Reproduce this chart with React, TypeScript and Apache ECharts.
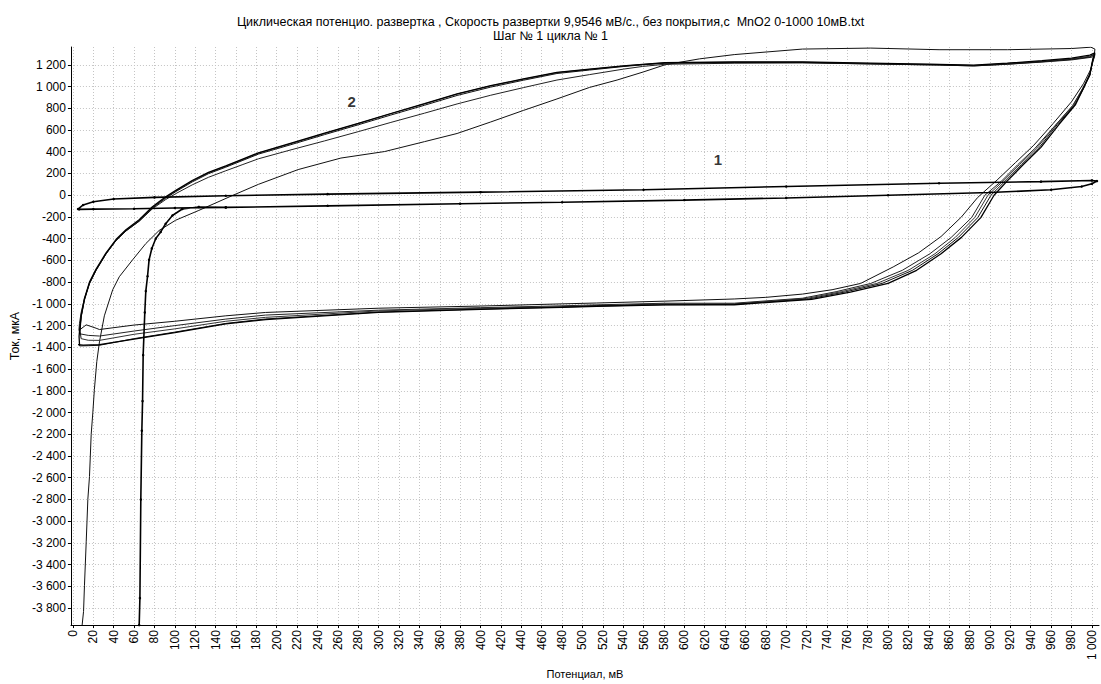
import React, { useEffect, useRef } from "react";
import * as echarts from "echarts";

// Tick values (mV on x, µA on y)
const xTicks: number[] = Array.from({ length: 51 }, (_, i) => i * 20);
const yTicks: number[] = Array.from({ length: 26 }, (_, i) => -3800 + i * 200);

// Curve 1: flat band with initial steep charging drop (dotted line)
const curve1: number[][] = [
  [65, -3956], [65.7, -3708], [66.6, -2800], [67.6, -2167], [68.3, -1895], [68.9, -1471],
  [70.5, -1079], [71.5, -882], [73.2, -746], [74.7, -595], [77.4, -490], [81.3, -399],
  [86.1, -338], [91, -263], [97.6, -187], [107.3, -127], [123.5, -108],
  [150, -112], [250, -98], [380, -78], [480, -65], [600, -45], [700, -25], [800, 0],
  [900, 25], [960, 50], [990, 80], [1000, 105], [1005, 130],
  [1000, 136], [950, 125], [850, 110], [700, 80], [560, 50], [400, 28], [250, 10],
  [150, -5], [80, -20], [40, -35], [20, -60], [10, -90], [5, -127],
  [6, -130], [20, -128], [60, -125], [100, -118], [150, -112],
];

// Curve 2, cycle 1 (starts with the steep drop near 10 mV)
const cycle1: number[][] = [
  [9, -3956], [10.4, -3830], [11.3, -3590], [13, -3190], [14.6, -2800], [16.2, -2590],
  [17.9, -2200], [19.5, -2000], [21, -1790], [23.4, -1530], [26, -1350], [30.8, -1110],
  [39, -870], [45.5, -750], [58.5, -595], [71.5, -445], [84.5, -325], [100.8, -230],
  [123.5, -140], [156, -5], [182, 100], [221, 236], [263, 342], [306, 402], [345, 493],
  [377, 568], [410, 674], [442, 780], [475, 886], [507, 992], [534, 1060], [560, 1135],
  [581, 1200], [615, 1255], [649, 1294], [716, 1345], [783, 1354], [850, 1339],
  [917, 1339], [980, 1350], [999, 1362], [1003, 1345],
  [1002, 1260], [999, 1160], [992, 1030], [980, 860], [962, 660], [943, 460], [925, 300],
  [907, 140], [888, -20], [872, -200], [852, -380], [830, -530], [805, -660], [773, -812],
  [745, -870], [716, -910], [680, -940], [649, -955], [581, -975], [514, -992], [480, -1000],
  [400, -1020], [300, -1040], [189, -1079], [150, -1110], [100, -1160], [60, -1195],
  [26, -1236], [22.7, -1224], [13, -1193], [5.8, -1245],
];

const cycle2: number[][] = [
  [5.8, -1245], [6.4, -1180], [8, -1080], [11.3, -950], [16.2, -810], [22.7, -690],
  [32.5, -540], [42, -420], [52, -330], [65, -240], [78, -125], [91, -40], [101, 15],
  [117, 95], [133, 165], [150, 225], [166, 280], [182, 335], [215, 420], [247, 500],
  [280, 585], [312, 670], [345, 755], [377, 840], [410, 920], [442, 990], [475, 1060],
  [507, 1110], [540, 1160], [559, 1185], [581, 1205], [649, 1215], [716, 1218],
  [783, 1208], [850, 1198], [884, 1190], [917, 1205], [951, 1225], [980, 1245],
  [1000, 1270], [1003, 1285],
  [1001, 1240], [998, 1100], [991, 980], [981, 824], [964, 642], [944, 430], [927, 279],
  [911, 127], [895, 0], [882, -206], [862, -388], [841, -539], [814, -691], [783, -812],
  [749, -888], [716, -948], [649, -994], [581, -994], [514, -1009], [480, -1018],
  [400, -1035], [300, -1058], [189, -1103], [150, -1140], [100, -1200], [60, -1250],
  [26, -1296], [15, -1290], [6.5, -1275],
];

const cycle3: number[][] = [
  [6.5, -1275], [7, -1200], [8.1, -1109], [11.3, -957], [16.2, -807], [22.7, -686],
  [32.5, -535], [42.2, -413], [52, -323], [65, -232], [78, -112], [91, -21], [101, 40],
  [117, 130], [133, 206], [150, 266], [166, 326], [182, 387], [215, 478], [247, 568],
  [280, 659], [312, 750], [345, 840], [377, 931], [410, 1006], [442, 1067], [475, 1128],
  [507, 1158], [540, 1188], [559, 1203], [581, 1218], [649, 1224], [716, 1224],
  [783, 1212], [850, 1203], [884, 1194], [917, 1212], [951, 1233], [980, 1255],
  [998, 1279], [1003, 1300],
  [1001, 1250], [998, 1110], [991, 985], [982, 830], [965, 650], [946, 435], [929, 282],
  [913, 130], [898, 0], [885, -206], [866, -388], [846, -539], [820, -691], [789, -812],
  [754, -888], [720, -950], [649, -1000], [581, -1000], [514, -1015], [480, -1025],
  [400, -1040], [300, -1065], [189, -1124], [150, -1160], [100, -1230], [60, -1280],
  [26, -1336], [15, -1335], [8, -1320],
];

const cycle4: number[][] = [
  [8, -1320], [7, -1250], [8.1, -1120], [11.3, -965], [16.2, -815], [22.7, -692],
  [32.5, -540], [42.2, -418], [52, -328], [65, -238], [78, -118], [91, -28], [101, 33],
  [117, 122], [133, 198], [150, 258], [166, 318], [182, 378], [215, 468], [247, 558],
  [280, 648], [312, 738], [345, 828], [377, 918], [410, 995], [442, 1058], [475, 1120],
  [507, 1152], [540, 1184], [559, 1200], [581, 1214], [649, 1220], [716, 1220],
  [783, 1208], [850, 1198], [884, 1190], [917, 1206], [951, 1228], [980, 1250],
  [998, 1272], [1003, 1295],
  [1001, 1245], [998, 1105], [992, 985], [983, 830], [966, 650], [948, 435], [931, 282],
  [915, 130], [901, 0], [888, -206], [869, -388], [849, -539], [824, -691], [794, -812],
  [758, -890], [722, -955], [649, -1005], [581, -1008], [514, -1020], [480, -1030],
  [400, -1048], [300, -1075], [189, -1139], [150, -1180], [100, -1260], [60, -1320],
  [26, -1381], [15, -1385], [6.5, -1387],
];

const cycle5: number[][] = [
  [6.5, -1387], [6, -1300], [6.4, -1255], [8.1, -1105], [11.3, -950], [16.2, -800],
  [22.7, -680], [32.5, -530], [42.2, -408], [52, -318], [65, -226], [78, -106], [91, -15],
  [101, 45], [117, 135], [133, 210], [150, 270], [166, 330], [182, 390], [215, 482],
  [247, 572], [280, 662], [312, 752], [345, 842], [377, 932], [410, 1008], [442, 1070],
  [475, 1130], [507, 1160], [540, 1190], [559, 1205], [581, 1220], [649, 1226],
  [716, 1226], [783, 1215], [850, 1205], [884, 1198], [917, 1215], [951, 1238],
  [980, 1262], [998, 1290], [1003, 1310],
  [1001, 1255], [998, 1115], [992, 990], [984, 835], [968, 655], [950, 440], [933, 285],
  [917, 132], [904, 0], [891, -206], [872, -388], [852, -539], [828, -691], [800, -812],
  [763, -892], [725, -958], [649, -1008], [581, -1010], [514, -1022], [480, -1032],
  [400, -1050], [300, -1078], [189, -1145], [150, -1185], [100, -1265], [60, -1325],
  [26, -1375], [10, -1380], [5, -1375],
];

// Curve labels placed in data coordinates
const curveLabels: (number | string)[][] = [
  [633, 333, "1"],
  [273.5, 858, "2"],
];

const titleText =
  "Циклическая потенцио. развертка , Скорость развертки 9,9546 мВ/с., без покрытия,с  MnO2 0-1000 10мВ.txt\nШаг № 1 цикла № 1";

function fmt(v: number): string {
  const a = Math.abs(Math.round(v)).toString();
  const t = a.length > 3 ? a.slice(0, -3) + " " + a.slice(-3) : a;
  return (v < 0 ? "-" : "") + t;
}

const FONT = "'Liberation Sans', Arial, sans-serif";

export default function App() {
  const ref = useRef<HTMLDivElement>(null);
  useEffect(() => {
    document.body.style.margin = "0";
    if (!ref.current) return;
    const chart = echarts.init(ref.current, undefined, { renderer: "svg" });
    const lineSeries = (data: number[][], color: string, width: number) => ({
      type: "line",
      data,
      showSymbol: false,
      symbol: "none",
      lineStyle: { color, width },
      silent: true,
      clip: true,
    });
    chart.setOption({
      animation: false,
      backgroundColor: "#ffffff",
      title: {
        text: titleText,
        left: "center",
        top: 10,
        textStyle: {
          fontFamily: FONT,
          fontSize: 12.5,
          fontWeight: "normal",
          color: "#000",
          lineHeight: 14,
        },
      },
      grid: { left: 65, right: 2, top: 47, bottom: 50, containLabel: false },
      xAxis: {
        type: "value",
        min: -2,
        max: 1007,
        name: "Потенциал, мВ",
        nameLocation: "middle",
        nameGap: 37,
        nameTextStyle: { fontFamily: FONT, fontSize: 11, color: "#000" },
        axisLine: { show: true, onZero: false, lineStyle: { color: "#000", width: 1 } },
        axisTick: { show: true, length: 3, customValues: xTicks, lineStyle: { color: "#000" } },
        axisLabel: {
          customValues: xTicks,
          rotate: 90,
          margin: 5,
          fontFamily: FONT,
          fontSize: 12,
          color: "#000",
          formatter: (v: number) => fmt(v),
        },
        splitLine: { show: true, lineStyle: { color: "#c4c4c4", type: [1, 2], width: 1 } },
      },
      yAxis: {
        type: "value",
        min: -3956,
        max: 1364,
        name: "Ток, мкА",
        nameLocation: "middle",
        nameGap: 47,
        nameTextStyle: { fontFamily: FONT, fontSize: 12.5, color: "#000" },
        axisLine: { show: true, onZero: false, lineStyle: { color: "#000", width: 1 } },
        axisTick: { show: true, length: 3, customValues: yTicks, lineStyle: { color: "#000" } },
        axisLabel: {
          customValues: yTicks,
          margin: 5,
          fontFamily: FONT,
          fontSize: 12,
          color: "#000",
          formatter: (v: number) => fmt(v),
        },
        splitLine: { show: true, lineStyle: { color: "#c4c4c4", type: [1, 2], width: 1 } },
      },
      series: [
        lineSeries(cycle1, "#111", 1),
        lineSeries(cycle2, "#222", 1),
        lineSeries(cycle3, "#333", 1),
        lineSeries(cycle4, "#111", 1),
        lineSeries(cycle5, "#000", 1.3),
        {
          type: "line",
          data: curve1,
          showSymbol: true,
          symbol: "circle",
          symbolSize: 2.5,
          itemStyle: { color: "#000" },
          lineStyle: { color: "#000", width: 1.6 },
          silent: true,
        },
        {
          type: "scatter",
          data: curveLabels,
          symbolSize: 0,
          silent: true,
          label: {
            show: true,
            position: "inside",
            formatter: (p: any) => String(p.value[2]),
            fontFamily: FONT,
            fontSize: 15,
            fontWeight: "bold",
            color: "#000",
          },
        },
      ],
    });
    return () => chart.dispose();
  }, []);
  return <div ref={ref} style={{ width: 1101, height: 684 }} />;
}
